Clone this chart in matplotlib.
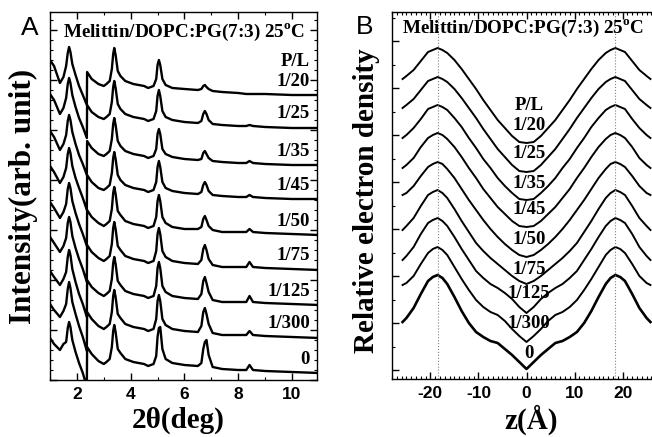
import numpy as np
import matplotlib
matplotlib.use('Agg')
import matplotlib.pyplot as plt
from matplotlib.ticker import MultipleLocator

# ---------- Panel A: XRD patterns (height above each trace's own baseline) ----------
two_theta = [1.00, 1.15, 1.37, 1.50, 1.60, 1.66, 1.71, 1.76, 1.83, 1.95, 2.08, 2.22, 2.37, 2.38,
             2.55, 2.80, 3.00, 3.10, 3.22, 3.30, 3.35, 3.39, 3.44, 3.52, 3.62, 3.80,
             4.10, 4.50, 4.65, 4.85, 4.95, 5.00, 5.05, 5.10, 5.18, 5.30, 5.55, 6.00,
             6.50, 6.63, 6.70, 6.76, 6.82, 6.90, 7.05, 7.40, 8.00, 8.30, 8.42, 8.55,
             9.00, 10.0, 11.0]

i_1_20 = [35, 29, 12, 18, 29, 42, 48, 43, 31, 20, 9, 0, -10, 23,
          16, 11, 9, 11, 14, 26, 41, 47, 40, 24, 19, 14,
          11, 9, 7, 9, 16, 30, 35, 30, 16, 10, 7, 6,
          5, 6, 9, 10, 8, 6, 4, 3, 2, 1, 1, 1,
          1, 0, 0]
i_1_25 = [34, 28, 14, 20, 30, 44, 50, 45, 33, 21, 10, 1, -10, 23,
          16, 11, 9, 11, 14, 26, 41, 47, 40, 24, 19, 14,
          11, 9, 7, 9, 17, 32, 38, 32, 17, 11, 8, 6,
          5, 7, 14, 17, 14, 8, 4, 3, 2, 2, 3, 2,
          1, 0, 0]
i_1_35 = [34, 28, 15, 21, 30, 44, 50, 45, 33, 21, 10, 1, -10, 24,
          17, 11, 9, 11, 14, 26, 41, 47, 40, 24, 19, 14,
          11, 9, 7, 9, 16, 31, 36, 31, 16, 11, 8, 6,
          5, 6, 12, 14, 11, 7, 4, 3, 2, 2, 4, 2,
          1, 0, 0]
i_1_45 = [33, 27, 16, 22, 31, 45, 51, 46, 33, 21, 11, 1, -11, 24,
          17, 11, 9, 11, 14, 26, 41, 47, 40, 24, 19, 14,
          11, 9, 7, 9, 17, 32, 38, 32, 17, 11, 8, 6,
          5, 7, 14, 17, 14, 8, 4, 3, 2, 2, 4, 2,
          1, 0, 0]
i_1_50 = [33, 27, 17, 23, 31, 46, 52, 47, 34, 22, 11, 1, -11, 25,
          18, 12, 9, 11, 14, 26, 42, 48, 41, 24, 20, 14,
          11, 9, 7, 9, 18, 34, 40, 34, 18, 12, 8, 6,
          6, 8, 16, 19, 15, 9, 5, 3, 3, 3, 6, 3,
          2, 1, 0]
i_1_75 = [33, 27, 18, 24, 32, 47, 53, 48, 34, 22, 11, 1, -12, 25,
          18, 12, 9, 11, 14, 26, 42, 48, 41, 24, 20, 14,
          11, 9, 7, 9, 19, 36, 42, 36, 19, 13, 9, 7,
          6, 10, 21, 25, 20, 11, 5, 3, 3, 3, 8, 3,
          2, 1, 0]
i_1_125 = [34, 28, 20, 26, 33, 48, 55, 50, 36, 23, 11, 1, -12, 25,
           18, 12, 9, 11, 14, 26, 42, 48, 41, 24, 20, 14,
           11, 9, 7, 9, 19, 37, 43, 37, 19, 13, 9, 7,
           6, 11, 24, 28, 22, 13, 5, 3, 3, 3, 9, 3,
           2, 1, 0]
i_1_300 = [34, 28, 21, 27, 34, 49, 56, 50, 36, 24, 12, 1, -13, 26,
           19, 12, 9, 11, 14, 26, 42, 48, 41, 24, 20, 14,
           11, 9, 7, 9, 19, 37, 43, 37, 19, 13, 9, 7,
           6, 12, 26, 30, 24, 14, 5, 3, 3, 3, 7, 3,
           2, 1, 0]
i_0 = [35, 29, 23, 29, 31, 45, 51, 46, 33, 21, 10, 0, -14, 26,
       19, 12, 9, 11, 14, 26, 42, 48, 41, 24, 20, 14,
       11, 9, 7, 9, 17, 36, 45, 46, 24, 14, 10, 8,
       7, 10, 24, 31, 33, 18, 6, 4, 3, 3, 8, 3,
       2, 1, 0]

pl_labels = ['1/20', '1/25', '1/35', '1/45', '1/50', '1/75', '1/125', '1/300', '0']
offset_a = [285, 252, 215, 181, 145, 110, 75, 42, 7]

# ---------- Panel B: electron density profiles (depth below the headgroup peak) ----------
z_half = [0, 1.5, 3, 4.5, 6, 7.5, 9, 10.5, 12, 13.5, 15, 16.5, 17.5, 18.5, 19.5, 20.5,
          22, 23.5, 25, 25.8]

d_1_20 = [95, 94, 88, 80, 72, 62, 52, 41, 31, 21, 12, 5, 2, 0, 2, 4, 13, 22, 28, 31]
d_1_25 = [95, 94, 88, 80, 72, 62, 52, 41, 31, 21, 12, 5, 2, 0, 2, 4, 13, 22, 28, 31]
d_1_35 = [95, 94, 88, 81, 73, 63, 54, 43, 33, 22, 13, 5, 2, 0, 2, 4, 14, 23, 30, 33]
d_1_45 = [94, 93, 88, 81, 74, 65, 56, 45, 35, 24, 14, 6, 2, 0, 2, 5, 14, 25, 32, 35]
d_1_50 = [95, 93, 88, 82, 75, 67, 58, 48, 38, 27, 16, 7, 2, 0, 2, 5, 14, 24, 31, 33]
d_1_75 = [94, 91, 86, 80, 74, 68, 61, 53, 42, 31, 19, 8, 3, 0, 2, 5, 16, 28, 36, 40]
d_1_125 = [95, 89, 81, 75, 70, 66, 60, 53, 42, 31, 19, 8, 3, 0, 2, 5, 16, 29, 38, 42]
d_1_300 = [95, 89, 82, 74, 68, 65, 60, 53, 43, 32, 20, 8, 3, 0, 2, 6, 17, 29, 36, 38]
d_0 = [94, 87, 80, 74, 68, 66, 62, 57, 48, 36, 22, 9, 3, 0, 2, 6, 19, 33, 43, 47]

peak_b = [331, 302, 274, 246, 217, 189, 161, 132, 104]

curves_a = [i_1_20, i_1_25, i_1_35, i_1_45, i_1_50, i_1_75, i_1_125, i_1_300, i_0]
curves_b = [d_1_20, d_1_25, d_1_35, d_1_45, d_1_50, d_1_75, d_1_125, d_1_300, d_0]

# label placement (text only)
label_y_a = [o + 14 for o in offset_a]
label_y_b = [253, 225, 196, 169, 139, 109, 86, 56, 26]

plt.rcParams['font.family'] = 'Liberation Serif'
plt.rcParams['mathtext.fontset'] = 'custom'
plt.rcParams['mathtext.rm'] = 'Liberation Serif:bold'
plt.rcParams['mathtext.bf'] = 'Liberation Serif:bold'
plt.rcParams['axes.linewidth'] = 1.0
plt.rcParams['axes.unicode_minus'] = False

W, H = 652, 437
fig = plt.figure(figsize=(W / 100, H / 100), dpi=100)
axA = fig.add_axes([50 / W, 57 / H, 267 / W, 368 / H])
axB = fig.add_axes([392 / W, 58 / H, 269 / W, 367 / H])

# Panel A
for h, off in zip(curves_a, offset_a):
    axA.plot(two_theta, np.array(h) + off, color='black', lw=1.7)
axA.set_xlim(1, 10.93)
axA.set_ylim(0, 368)
axA.xaxis.set_major_locator(MultipleLocator(2))
axA.xaxis.set_minor_locator(MultipleLocator(1))
axA.yaxis.set_major_locator(MultipleLocator(50))
axA.yaxis.set_minor_locator(MultipleLocator(10))
axA.tick_params(which='both', direction='in', top=True, right=True, labelleft=False)
axA.tick_params(which='major', length=5, width=1)
axA.tick_params(which='minor', length=2.5, width=0.8)
axA.tick_params(axis='x', pad=5)

for lab, y in zip(pl_labels, label_y_a):
    axA.text(10.67, y, lab, ha='right', va='center', fontsize=13.5, fontweight='bold')
axA.text(10.67, 318, 'P/L', ha='right', va='center', fontsize=13.5, fontweight='bold')

# Panel B
for d, pk in zip(curves_b, peak_b):
    z = [-v for v in z_half[::-1]] + z_half[1:]
    dd = d[::-1] + d[1:]
    lw = 1.9 if d is d_0 else 1.4
    axB.plot(z, pk - np.array(dd), color='black', lw=lw)
for zp in (-18.5, 18.5):
    axB.axvline(zp, color='gray', lw=0.8, ls=':')
axB.set_xlim(-28, 28)
axB.set_ylim(0, 367)
axB.xaxis.set_major_locator(MultipleLocator(10))
axB.xaxis.set_minor_locator(MultipleLocator(1))
axB.set_yticks(np.arange(9, 367, 47))
axB.set_yticks(np.arange(32.5, 367, 47), minor=True)
axB.tick_params(which='both', direction='in', top=True, right=True, labelleft=False)
axB.tick_params(which='major', length=5, width=1)
axB.tick_params(which='minor', length=2.5, width=0.8)
axB.tick_params(axis='x', pad=5)

axB.text(0.5, 274, 'P/L', ha='center', va='center', fontsize=13.5, fontweight='bold')
for lab, y in zip(pl_labels, label_y_b):
    axB.text(0.5, y, lab, ha='center', va='center', fontsize=13.5, fontweight='bold')

for ax in (axA, axB):
    for t in ax.get_xticklabels():
        t.set_fontfamily('Liberation Sans')
        t.set_fontweight('bold')
        t.set_fontsize(12.5)

# titles, panel letters and axis labels
title = r'Melittin/DOPC:PG(7:3) 25$^{\rm o}$C'
fig.text(63 / W, 1 - 32 / H, title, ha='left', va='center', fontsize=13.8, fontweight='bold')
fig.text(402 / W, 1 - 28 / H, title, ha='left', va='center', fontsize=13.8, fontweight='bold')
fig.text(30 / W, 1 - 28 / H, 'A', ha='center', va='center', fontsize=19, family='Liberation Sans')
fig.text(365 / W, 1 - 27 / H, 'B', ha='center', va='center', fontsize=19, family='Liberation Sans')

fig.text(23 / W, 1 - 196 / H, 'Intensity(arb. unit)', rotation=90, ha='center', va='center',
         fontsize=22.5, fontweight='bold')
fig.text(367 / W, 1 - 201 / H, 'Relative electron density', rotation=90, ha='center', va='center',
         fontsize=21, fontweight='bold')
fig.text(178 / W, 1 - 420 / H, '2θ(deg)', ha='center', va='center', fontsize=21, fontweight='bold')
fig.text(531 / W, 1 - 420 / H, 'z(Å)', ha='center', va='center', fontsize=21, fontweight='bold')

fig.savefig('out.png', dpi=100)
